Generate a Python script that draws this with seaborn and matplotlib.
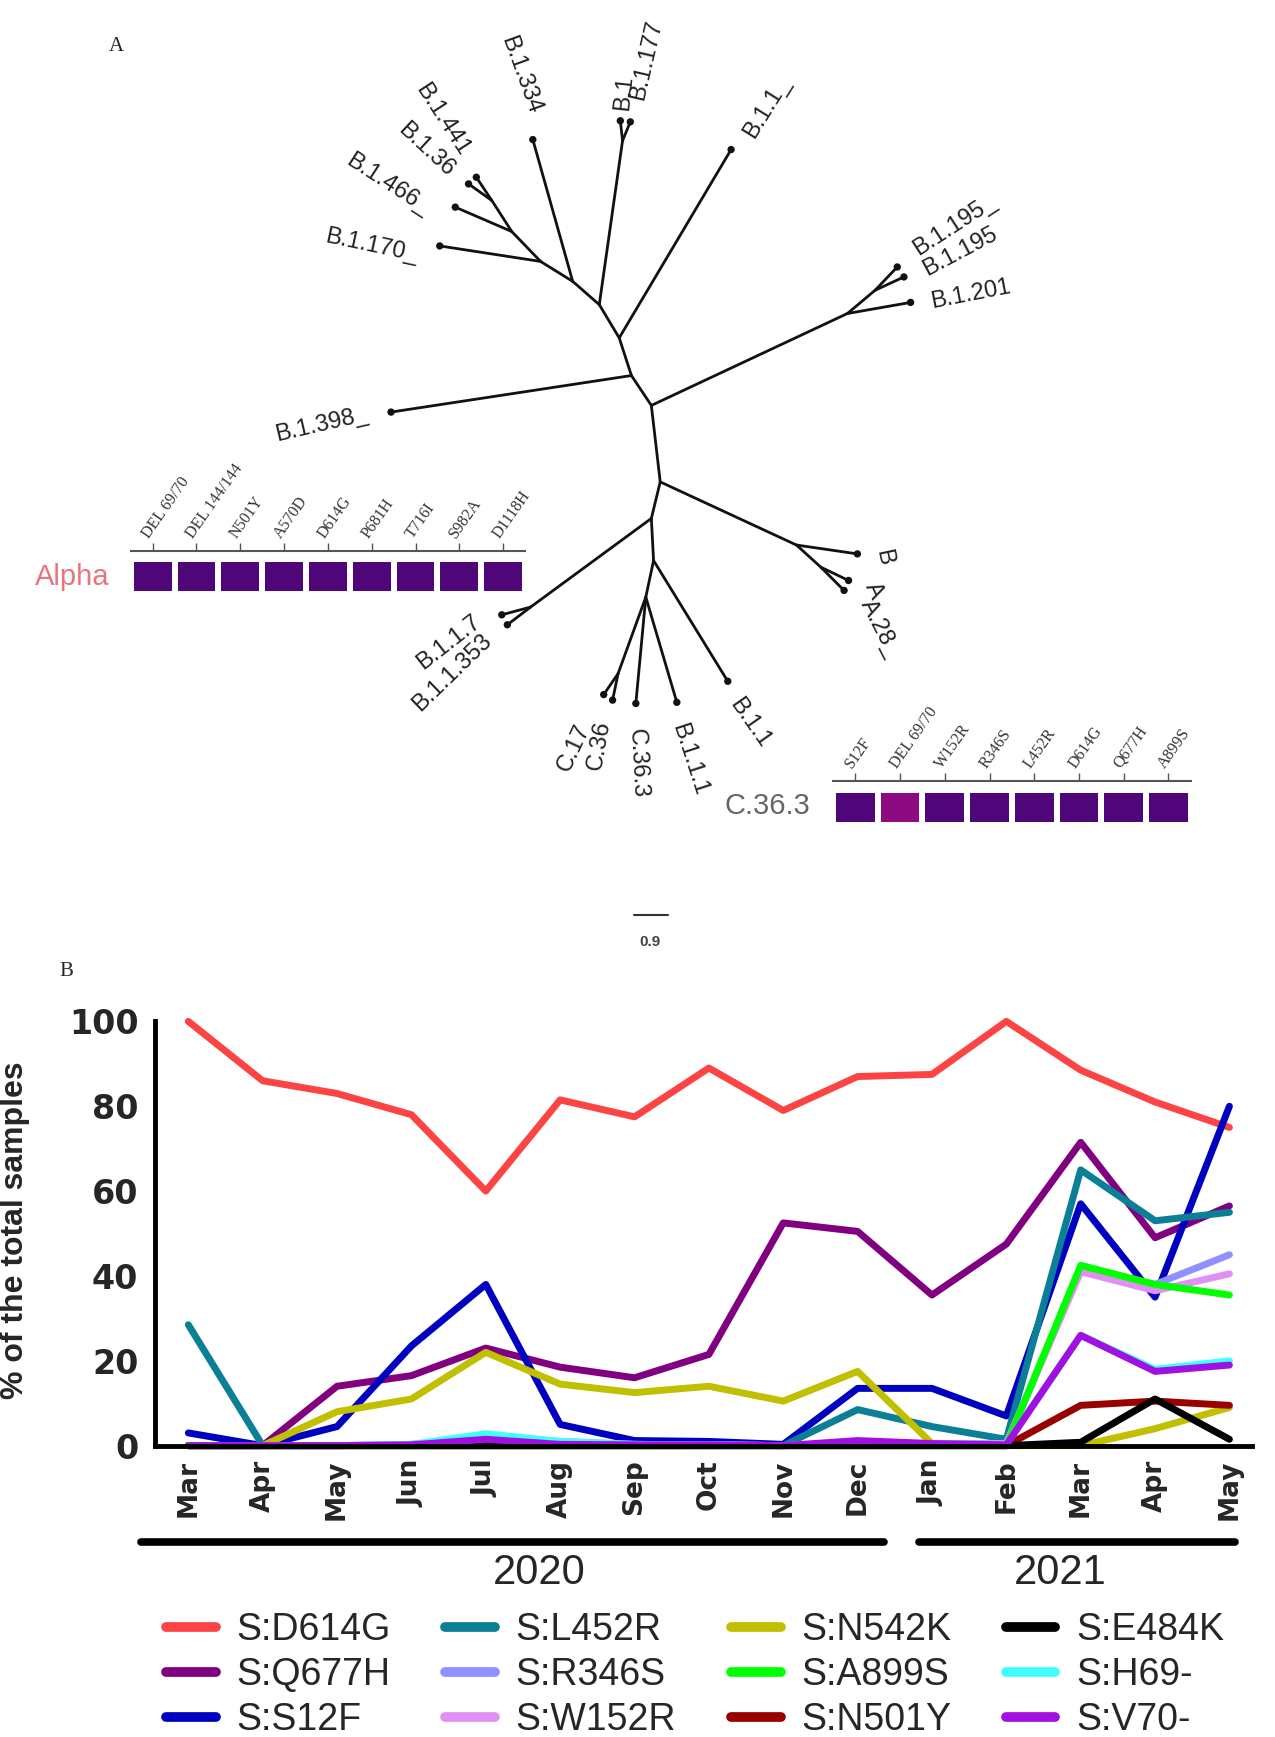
import numpy as np
import pandas as pd
import matplotlib
matplotlib.use("Agg")
import matplotlib.pyplot as plt
import seaborn as sns
from matplotlib.colors import LinearSegmentedColormap

# ---------------- panel A: unrooted tree (coords in page pixels) ----------------
node_name = ["", "", "", "", "", "", "", "", "", "", "", "", "", "", "", "", "", "", "",
             "B.1.441", "B.1.36", "B.1.466_", "B.1.170_", "B.1.334", "B.1", "B.1.177",
             "B.1.1_", "B.1.398_", "B.1.195_", "B.1.195", "B.1.201", "B", "A", "A.28_",
             "B.1.1.7", "B.1.1.353", "B.1.1", "B.1.1.1", "C.36.3", "C.17", "C.36"]
node_x = [444, 462, 488, 517, 541, 559, 570, 588, 596, 588, 590, 583, 765, 790, 719, 741, 479, 558, 562,
          430, 423, 411, 397, 481, 560, 569, 660, 353, 810, 816, 822, 774, 766, 762,
          453, 458, 657, 611, 574, 545, 553]
node_y = [181, 209, 236, 254, 275, 305, 339, 366, 435, 468, 506, 539, 283, 262, 492, 512, 548, 608, 127,
          160, 166, 187, 222, 126, 109, 110, 135, 372, 241, 250, 273, 500, 524, 533,
          555, 564, 615, 634, 635, 627, 632]
node_parent = [1, 2, 3, 4, 5, 6, 7, 8, 9, 10, 11, -1, 7, 12, 8, 14, 9, 11, 4,
               0, 0, 1, 2, 3, 18, 18, 5, 6, 13, 13, 12, 14, 15, 15,
               16, 16, 10, 11, 11, 17, 17]

# tip label layout: centre x, centre y, rotation
tip_label_pos = {
    "B.1.441": (399, 108, -57), "B.1.36": (385, 135, -43), "B.1.466_": (350, 167, -33),
    "B.1.170_": (335, 222, -12), "B.1.334": (470, 68, -70), "B.1": (563, 84, 84),
    "B.1.177": (584, 54, 77), "B.1.1_": (692, 97, 58), "B.1.398_": (290, 383, 13),
    "B.1.195_": (862, 203, 33), "B.1.195": (867, 227, 28), "B.1.201": (876, 266, 11),
    "B": (798, 503, -78), "A": (789, 533, -65), "A.28_": (794, 567, -63),
    "B.1.1.7": (405, 580, 38), "B.1.1.353": (408, 607, 44), "B.1.1": (677, 653, -55),
    "B.1.1.1": (622, 686, -72), "C.36.3": (576, 689, -87), "C.17": (518, 675, 65),
    "C.36": (541, 673, 80),
}

alpha_muts = ["DEL 69/70", "DEL 144/144", "N501Y", "A570D", "D614G", "P681H", "T716I", "S982A", "D1118H"]
alpha_vals = [1, 1, 1, 1, 1, 1, 1, 1, 1]
c363_muts = ["S12F", "DEL 69/70", "W152R", "R346S", "L452R", "D614G", "Q677H", "A899S"]
c363_vals = [1, 0.6, 1, 1, 1, 1, 1, 1]

# ---------------- panel B: % of samples per month ----------------
months = ["Mar", "Apr", "May", "Jun", "Jul", "Aug", "Sep", "Oct", "Nov", "Dec",
          "Jan", "Feb", "Mar", "Apr", "May"]
D614G = [100, 86, 83, 78, 60, 81.5, 77.5, 89, 79, 87, 87.5, 100, 88.5, 81, 75]
Q677H = [0, 0, 14, 16.5, 23, 18.5, 16, 21.5, 52.5, 50.5, 35.5, 47.5, 71.5, 49, 56.5]
S12F = [3, 0, 4.5, 23.5, 38, 5, 1.2, 1, 0.3, 13.5, 13.5, 7, 57, 35, 80]
L452R = [28.5, 0, 0, 0, 0, 0, 0, 0, 0, 8.5, 4.5, 1.5, 65, 53, 55]
R346S = [0, 0, 0, 0.3, 2, 1, 0.3, 0.2, 0, 0.5, 0.5, 0.5, 41.5, 38, 45]
W152R = [0, 0, 0, 0.3, 1.5, 0.5, 0.3, 0.2, 0, 0.5, 0.5, 0.5, 41, 36.5, 40.5]
N542K = [0, 0, 8, 11, 22, 14.5, 12.5, 14, 10.5, 17.5, 0.5, 0, 0, 4, 9]
A899S = [0, 0, 0, 0, 0, 0, 0, 0, 0, 0, 0, 0, 42.5, 38, 35.5]
N501Y = [0, 0, 0, 0, 0, 0, 0, 0, 0, 0, 0, 0, 9.5, 10.5, 9.5]
E484K = [0, 0, 0, 0, 0, 0, 0, 0, 0, 0, 0, 0, 0.8, 11, 1.5]
H69 = [0, 0, 0, 0.3, 2.8, 1, 0.3, 0.2, 0, 0.8, 0.5, 0.3, 26, 18, 20]
V70 = [0, 0, 0, 0.2, 1.5, 0.3, 0.2, 0.2, 0, 1.2, 0.5, 0.2, 26, 17.5, 19]

series = {"S:D614G": D614G, "S:Q677H": Q677H, "S:S12F": S12F, "S:L452R": L452R,
          "S:R346S": R346S, "S:W152R": W152R, "S:N542K": N542K, "S:A899S": A899S,
          "S:N501Y": N501Y, "S:E484K": E484K, "S:H69-": H69, "S:V70-": V70}
colors = {"S:D614G": "#fc4444", "S:Q677H": "#800080", "S:S12F": "#0000c0", "S:L452R": "#0a7f96",
          "S:R346S": "#9090ff", "S:W152R": "#e090f0", "S:N542K": "#c0c000", "S:A899S": "#00ff00",
          "S:N501Y": "#990000", "S:E484K": "#000000", "S:H69-": "#40ffff", "S:V70-": "#a010e0"}

df = pd.concat([pd.DataFrame({"idx": np.arange(len(months)), "pct": v, "mutation": k})
                for k, v in series.items()], ignore_index=True)

sns.set_style("white")
plt.rcParams["font.family"] = ["Liberation Sans", "DejaVu Sans"]

W, H = 1151, 1568  # reference page units
fig = plt.figure(figsize=(12.75, 17.37), dpi=100)

# background axes holding the tree
ax0 = fig.add_axes([0, 0, 1, 1])
for i, p in enumerate(node_parent):
    if p >= 0:
        ax0.plot([node_x[i], node_x[p]], [node_y[i], node_y[p]], color="#111111", lw=2, solid_capstyle="round")
tips = [i for i, n in enumerate(node_name) if n]
sns.scatterplot(x=[node_x[i] for i in tips], y=[node_y[i] for i in tips], ax=ax0,
                color="#111111", s=28, edgecolor="none", zorder=3)
for i in tips:
    cx, cy, rot = tip_label_pos[node_name[i]]
    ax0.text(cx, cy, node_name[i], rotation=rot, rotation_mode="anchor", ha="center", va="center",
             fontsize=17, color="#222222")
ax0.text(105, 42, "A", fontsize=15, family="Liberation Serif", ha="center", va="center")
ax0.text(60, 877, "B", fontsize=15, family="Liberation Serif", ha="center", va="center")
ax0.plot([572, 603], [826, 826], color="#333333", lw=1.5)
ax0.text(587, 850, "0.9", fontsize=11, color="#444444", ha="center", va="center", fontweight="bold")
ax0.text(65, 521, "Alpha", fontsize=21, color="#e8747c", ha="center", va="center")
ax0.text(693, 728, "C.36.3", fontsize=21, color="#666666", ha="center", va="center")
ax0.set_xlim(0, W)
ax0.set_ylim(H, 0)
ax0.axis("off")

cmap = LinearSegmentedColormap.from_list("mut", ["#8e0a80", "#4e0678"])


def mutation_strip(rect, names, vals, top):
    axm = fig.add_axes(rect)
    sns.heatmap(np.array([vals]), ax=axm, cmap=cmap, vmin=0.6, vmax=1, cbar=False,
                linewidths=4, linecolor="white", xticklabels=names, yticklabels=False)
    axm.set_ylim(1, top)
    for s in ["left", "right", "bottom"]:
        axm.spines[s].set_visible(False)
    axm.spines["top"].set_visible(True)
    axm.spines["top"].set_color("#555555")
    axm.spines["top"].set_linewidth(1.5)
    axm.tick_params(axis="x", top=True, bottom=False, labeltop=True, labelbottom=False,
                    length=6, width=1, color="#555555", direction="out", pad=1)
    for t in axm.get_xticklabels():
        t.set_rotation(55)
        t.set_ha("left")
        t.set_rotation_mode("anchor")
        t.set_family("Liberation Serif")
        t.set_fontsize(11.5)
        t.set_color("#333333")
    axm.set_xlabel("")
    axm.set_ylabel("")
    return axm


mutation_strip([118 / W, 1 - 536 / H, 356 / W, 39 / H], alpha_muts, alpha_vals, -0.26)
mutation_strip([752 / W, 1 - 745 / H, 323 / W, 40 / H], c363_muts, c363_vals, -0.25)

# ---------------- panel B ----------------
ax = fig.add_axes([140 / W, 1 - 1305 / H, 990 / W, 383 / H])
sns.lineplot(data=df, x="idx", y="pct", hue="mutation", hue_order=list(series.keys()),
             palette=colors, linewidth=5, ax=ax, sort=False)
for ln in ax.lines:
    ln.set_clip_on(False)
handles, labels = ax.get_legend_handles_labels()
ax.get_legend().remove()
for h in handles:
    h.set_linewidth(7)
    h.set_solid_capstyle("round")

ax.set_xlim(-0.447, 14.3)
ax.set_ylim(0, 100)
sns.despine(ax=ax)
for s in ["left", "bottom"]:
    ax.spines[s].set_linewidth(3.5)
    ax.spines[s].set_color("black")
ax.set_xticks(range(len(months)))
ax.set_xticklabels(months, rotation=90, fontweight="bold", fontsize=19, family="DejaVu Sans")
ax.set_yticks([0, 20, 40, 60, 80, 100])
ax.set_yticklabels(["0", "20", "40", "60", "80", "100"], fontweight="bold", fontsize=24, family="DejaVu Sans")
ax.tick_params(axis="x", length=8, width=3, direction="out", pad=2, color="black")
ax.tick_params(axis="y", length=9, width=3, direction="out", pad=3, color="black")
ax.set_xlabel("")
ax.set_ylabel("% of the total samples", fontsize=23, fontweight="bold")
ax.yaxis.set_label_coords(-0.114, 0.509)

# year brackets under the month axis
tr = ax.get_xaxis_transform()
ax.plot([-0.63, 9.35], [-0.227, -0.227], transform=tr, color="black", lw=5.5,
        solid_capstyle="round", clip_on=False)
ax.plot([9.83, 14.07], [-0.227, -0.227], transform=tr, color="black", lw=5.5,
        solid_capstyle="round", clip_on=False)
ax.text(4.72, -0.30, "2020", transform=tr, fontsize=30, ha="center", va="center")
ax.text(11.72, -0.30, "2021", transform=tr, fontsize=30, ha="center", va="center")

fig.legend(handles, labels, loc="upper left", bbox_to_anchor=(150 / W, 1 - 1455 / H), ncol=4,
           frameon=False, fontsize=27, handlelength=1.33, handletextpad=0.55,
           columnspacing=1.45, labelspacing=0.24, borderpad=0, borderaxespad=0)

fig.savefig("out.png", dpi=100, facecolor="white")
